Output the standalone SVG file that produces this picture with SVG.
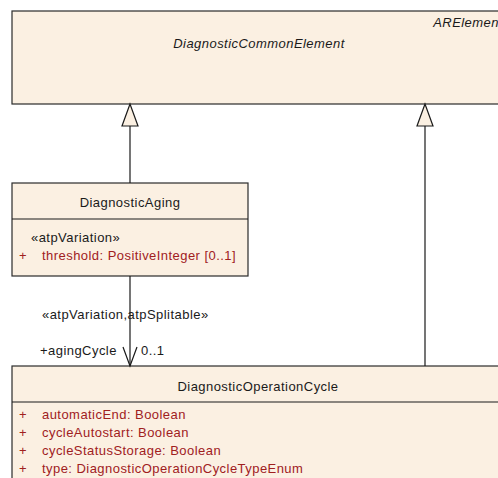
<svg xmlns="http://www.w3.org/2000/svg" width="498" height="478" viewBox="0 0 498 478">
<style>
.box{fill:#FBF0E2;stroke:#2b2b2b;stroke-width:1.2}
.t{font-family:"Liberation Sans",Arial,sans-serif;font-size:13px;fill:#1a1a1a;letter-spacing:0.45px}
.i{font-style:italic}
.attr{font-family:"Liberation Sans",Arial,sans-serif;font-size:13px;fill:#a0201e;letter-spacing:0.45px}
.ln{stroke:#1a1a1a;stroke-width:1.2;fill:none}
.tri{fill:#FBF0E2;stroke:#1a1a1a;stroke-width:1.2}
</style>
<rect width="498" height="478" fill="#ffffff"/>
<g id="DiagnosticCommonElement">
<rect class="box" x="12" y="11" width="500" height="93"/>
<text class="t i" x="503" y="27" text-anchor="end">ARElement</text>
<text class="t i" x="259" y="48" text-anchor="middle">DiagnosticCommonElement</text>
</g>
<g id="DiagnosticAging">
<rect class="box" x="12" y="183" width="236" height="93"/>
<line class="ln" x1="12" y1="219" x2="248" y2="219"/>
<text class="t" x="130" y="207" text-anchor="middle">DiagnosticAging</text>
<text class="t" x="31" y="242">«atpVariation»</text>
<text class="attr" x="19" y="260">+</text>
<text class="attr" x="42" y="260">threshold: PositiveInteger [0..1]</text>
</g>
<g id="DiagnosticOperationCycle">
<rect class="box" x="12" y="366" width="500" height="130"/>
<line class="ln" x1="12" y1="402" x2="512" y2="402"/>
<text class="t" x="258" y="391" text-anchor="middle">DiagnosticOperationCycle</text>
<text class="attr" x="19" y="419">+</text>
<text class="attr" x="42" y="419">automaticEnd: Boolean</text>
<text class="attr" x="19" y="437">+</text>
<text class="attr" x="42" y="437">cycleAutostart: Boolean</text>
<text class="attr" x="19" y="455">+</text>
<text class="attr" x="42" y="455">cycleStatusStorage: Boolean</text>
<text class="attr" x="19" y="473">+</text>
<text class="attr" x="42" y="473">type: DiagnosticOperationCycleTypeEnum</text>
</g>
<g id="connectors">
<line class="ln" x1="130" y1="126" x2="130" y2="183"/>
<polygon class="tri" points="130,104 122,126 138,126"/>
<line class="ln" x1="425" y1="126" x2="425" y2="366"/>
<polygon class="tri" points="425,104 417,126 433,126"/>
<line class="ln" x1="130" y1="276" x2="130" y2="366"/>
<polyline class="ln" points="123,347 130,366 137,347"/>
<text class="t" x="42" y="319">«atpVariation,atpSplitable»</text>
<text class="t" x="40" y="355">+agingCycle</text>
<text class="t" x="141" y="355">0..1</text>
</g>
</svg>
